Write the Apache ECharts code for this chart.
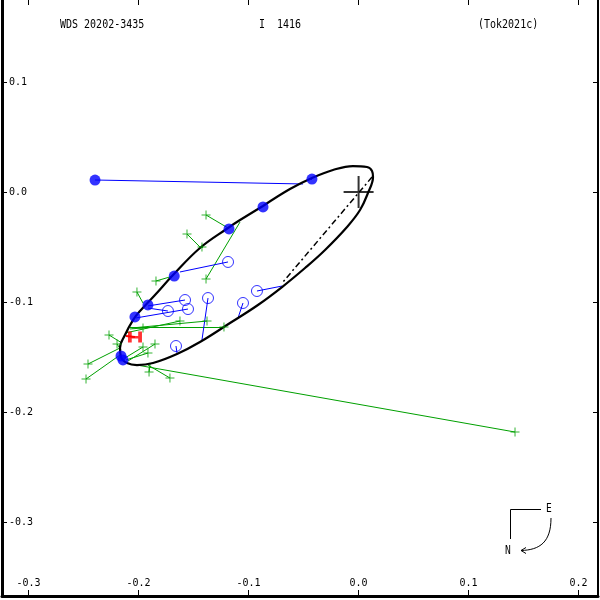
<!DOCTYPE html>
<html><head><meta charset="utf-8">
<script src="https://cdn.jsdelivr.net/npm/echarts@6/dist/echarts.min.js"></script>
<style>html,body{margin:0;padding:0;background:#fff}#c{width:600px;height:600px}</style>
</head><body><div id="c"></div><script>
// axis ticks
const xTicks = [-0.3, -0.2, -0.1, 0.0, 0.1, 0.2];
const yTicks = [-0.3, -0.2, -0.1, 0.0, 0.1];
// apparent orbit, starting mid upper branch
const orbit = [
  [-0.0869,-0.0127],[-0.1078,-0.0255],[-0.1187,-0.0327],[-0.1442,-0.0509],[-0.1687,-0.0755],
  [-0.1851,-0.0936],[-0.1987,-0.1082],[-0.2051,-0.1164],[-0.2124,-0.1300],[-0.2169,-0.1418],
  [-0.2160,-0.1500],[-0.2105,-0.1555],[-0.2015,-0.1573],[-0.1869,-0.1555],[-0.1651,-0.1473],
  [-0.1442,-0.1364],[-0.1169,-0.1191],[-0.0915,-0.1027],[-0.0696,-0.0864],[-0.0487,-0.0691],
  [-0.0305,-0.0527],[-0.0105,-0.0318],[0.0013,-0.0164],[0.0085,-0.0009],[0.0131,0.0136],
  [0.0122,0.0191],[0.0076,0.0227],[-0.0051,0.0236],[-0.0233,0.0200],[-0.0424,0.0127],
  [-0.0624,0.0027],[-0.0869,-0.0127]
];
// line of nodes
const nodeLine = [[0.0122,0.0136],[-0.0687,-0.0818]];
// speckle (filled blue) observed / predicted
const speckleObs  = [[-0.2396,0.0109],[-0.0424,0.0118],[-0.0869,-0.0136],[-0.1178,-0.0336],[-0.1676,-0.0764],[-0.1915,-0.1027],[-0.2033,-0.1136],[-0.2160,-0.1491],[-0.2142,-0.1527]];
const specklePred = [[-0.0505,0.0073],[-0.0433,0.0109],[-0.0869,-0.0136],[-0.1178,-0.0336],[-0.1676,-0.0764],[-0.1915,-0.1027],[-0.2033,-0.1136],[-0.2160,-0.1491],[-0.2142,-0.1527]];
// open blue circles observed / predicted
const openObs  = [[-0.1187,-0.0636],[-0.1578,-0.0982],[-0.1733,-0.1082],[-0.1551,-0.1064],[-0.1369,-0.0964],[-0.1051,-0.1009],[-0.0924,-0.0900],[-0.1660,-0.1400]];
const openPred = [[-0.1624,-0.0727],[-0.1915,-0.1036],[-0.1915,-0.1055],[-0.2024,-0.1145],[-0.1424,-0.1345],[-0.1096,-0.1145],[-0.0696,-0.0855],[-0.1651,-0.1464]];
// green micrometer observed / predicted
const microObs = [[-0.1387,-0.0209],[-0.1560,-0.0382],[-0.1424,-0.0500],[-0.1387,-0.0791],[-0.1842,-0.0809],[-0.2015,-0.0909],[-0.1624,-0.1173],[-0.1378,-0.1173],[-0.1960,-0.1236],[-0.2269,-0.1300],[-0.2196,-0.1382],[-0.1960,-0.1409],[-0.1851,-0.1382],[-0.1915,-0.1464],[-0.2460,-0.1564],[-0.2478,-0.1700],[-0.1905,-0.1636],[-0.1715,-0.1691],[0.1422,-0.2182],[-0.1224,-0.1227]];
const microPred = [[-0.1187,-0.0327],[-0.1433,-0.0509],[-0.1415,-0.0509],[-0.1078,-0.0273],[-0.1687,-0.0764],[-0.1960,-0.1009],[-0.2124,-0.1282],[-0.2060,-0.1236],[-0.2078,-0.1245],[-0.2151,-0.1373],[-0.2160,-0.1436],[-0.2124,-0.1509],[-0.2096,-0.1536],[-0.2115,-0.1527],[-0.2169,-0.1418],[-0.2169,-0.1482],[-0.1896,-0.1564],[-0.1915,-0.1573],[-0.2015,-0.1573],[-0.2078,-0.1227]];
// Hipparcos
const hipObs  = [[-0.2033,-0.1318]];
const hipPred = [[-0.2115,-0.1309]];
const origin = [[0,0]];

const FONT = '"DejaVu Sans Mono", monospace';
const BLUE='#0000ff', GREEN='#00a000', RED='#ff0000';
const pairs = (a,b)=>a.map((p,i)=>({coords:[p,b[i]]}));
const fmt = v => v.toFixed(1);

const chart = echarts.init(document.getElementById('c'), null, {renderer:'canvas'});
chart.setOption({
  animation:false,
  backgroundColor:'#fff',
  grid:{left:2,right:2,top:0,bottom:4,containLabel:false},
  xAxis:[
    {type:'value',position:'bottom',min:-0.32418,max:0.21764,
     axisLine:{show:true,onZero:false,lineStyle:{color:'#000',width:3}},
     axisTick:{show:true,inside:true,length:6,customValues:xTicks,lineStyle:{color:'#000',width:1}},
     axisLabel:{show:true,inside:true,margin:8,customValues:xTicks,formatter:fmt,color:'#000',fontFamily:FONT,fontSize:10},
     splitLine:{show:false}},
    {type:'value',position:'top',min:-0.32418,max:0.21764,
     axisLine:{show:false,onZero:false},
     axisTick:{show:true,inside:true,length:5,customValues:xTicks,lineStyle:{color:'#000',width:1}},
     axisLabel:{show:false},splitLine:{show:false}}
  ],
  yAxis:[
    {type:'value',position:'left',min:-0.36727,max:0.17455,
     axisLine:{show:true,onZero:false,lineStyle:{color:'#000',width:3}},
     axisTick:{show:true,inside:true,length:5,customValues:yTicks,lineStyle:{color:'#000',width:1}},
     axisLabel:{show:true,inside:true,margin:7,customValues:yTicks,formatter:fmt,color:'#000',fontFamily:FONT,fontSize:10},
     splitLine:{show:false}},
    {type:'value',position:'right',min:-0.36727,max:0.17455,
     axisLine:{show:true,onZero:false,lineStyle:{color:'#000',width:2}},
     axisTick:{show:true,inside:true,length:5,customValues:yTicks,lineStyle:{color:'#000',width:1}},
     axisLabel:{show:false},splitLine:{show:false}}
  ],
  series:[
    {type:'lines',coordinateSystem:'cartesian2d',data:pairs(microObs,microPred),lineStyle:{color:GREEN,width:1,opacity:1},z:2,silent:true},
    {type:'lines',coordinateSystem:'cartesian2d',data:pairs(openObs,openPred),lineStyle:{color:BLUE,width:1,opacity:1},z:2,silent:true},
    {type:'lines',coordinateSystem:'cartesian2d',data:pairs(speckleObs,specklePred),lineStyle:{color:BLUE,width:1,opacity:1},z:2,silent:true},
    {type:'lines',coordinateSystem:'cartesian2d',data:pairs(hipObs,hipPred),lineStyle:{color:RED,width:2,opacity:1},z:2,silent:true},
    {type:'line',data:nodeLine,symbol:'none',lineStyle:{color:'#000',width:1.5,type:[6,3,2,3]},z:3,silent:true},
    {type:'line',data:orbit,symbol:'none',smooth:0.4,lineStyle:{color:'#000',width:2.2},z:4,silent:true},
    {type:'scatter',data:microObs,symbol:'path://M0,4h9v1h-9z M4,0h1v9h-1z',symbolSize:9,itemStyle:{color:GREEN},z:5,silent:true},
    {type:'scatter',data:openObs,symbol:'circle',symbolSize:11,itemStyle:{color:'rgba(255,255,255,0)',borderColor:BLUE,borderWidth:1},z:6,silent:true},
    {type:'scatter',data:speckleObs,symbol:'circle',symbolSize:11,itemStyle:{color:BLUE},z:7,silent:true},
    {type:'scatter',data:hipObs,symbol:'path://M0,0h3.5v4.5h6v-4.5h3.5v11h-3.5v-4h-6v4h-3.5z',symbolSize:[14,11],itemStyle:{color:RED},z:8,silent:true},
    {type:'scatter',data:origin,symbol:'path://M0,15h30v2h-30z M14,0h2v32h-2z',symbolSize:[30,32],itemStyle:{color:'#000'},z:9,silent:true}
  ],
  graphic:[
    {type:'text',x:60,y:25,scaleX:0.8,style:{text:'WDS 20202-3435',font:'12.5px '+FONT,fill:'#000',textVerticalAlign:'middle',verticalAlign:'middle'}},
    {type:'text',x:259,y:25,scaleX:0.8,style:{text:'I  1416',font:'12.5px '+FONT,fill:'#000',textVerticalAlign:'middle',verticalAlign:'middle'}},
    {type:'text',x:478,y:25,scaleX:0.8,style:{text:'(Tok2021c)',font:'12.5px '+FONT,fill:'#000',textVerticalAlign:'middle',verticalAlign:'middle'}},
    {type:'polyline',shape:{points:[[541,509.5],[510.5,509.5],[510.5,539]]},style:{stroke:'#000',lineWidth:1,fill:null}},
    {type:'text',x:546,y:509,scaleX:0.8,style:{text:'E',font:'12px '+FONT,fill:'#000',textVerticalAlign:'middle',verticalAlign:'middle'}},
    {type:'text',x:505,y:551,scaleX:0.8,style:{text:'N',font:'12px '+FONT,fill:'#000',textVerticalAlign:'middle',verticalAlign:'middle'}},
    {type:'bezierCurve',shape:{x1:551,y1:518,cpx1:551,cpy1:542,cpx2:540,cpy2:550,x2:521,y2:550.5},style:{stroke:'#000',lineWidth:1,fill:null}},
    {type:'polyline',shape:{points:[[526,547.5],[521,550.5],[526,553.5]]},style:{stroke:'#000',lineWidth:1,fill:null}}
  ]
});
</script></body></html>
